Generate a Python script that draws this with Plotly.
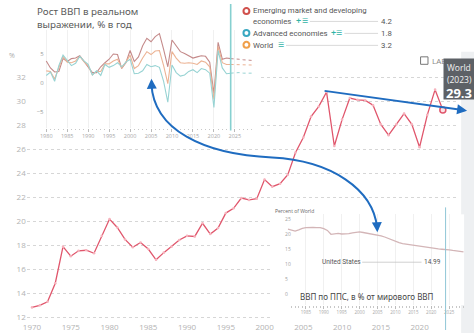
import plotly.graph_objects as go

W, H = 474, 334

# ---------------- data ----------------
main_years = list(range(1970, 2024))
main_share = [12.83, 13.0, 13.3, 14.85, 17.9, 17.1, 17.55, 17.6, 17.35, 18.8,
              20.2, 19.5, 18.5, 17.85, 18.25, 17.7, 16.8, 17.4, 17.9, 18.45,
              18.8, 18.75, 19.85, 18.95, 19.45, 20.7, 21.1, 21.95, 21.8, 21.9,
              23.5, 22.9, 23.15, 23.9, 25.75, 27.0, 28.75, 29.6, 30.8, 26.3,
              28.5, 30.3, 30.15, 30.1, 29.7, 28.1, 27.2, 28.1, 29.0, 28.1,
              26.2, 28.9, 31.0, 29.3]
main_xticks = [1970, 1975, 1980, 1985, 1990, 1995, 2000, 2005, 2010, 2015, 2020]

g_years = list(range(1980, 2030))
g_emde = [3.8, 2.6, 1.9, 2.0, 4.2, 3.7, 4.2, 4.3, 4.7, 3.7,
          2.8, 1.8, 1.8, 2.8, 3.5, 4.1, 5.0, 4.9, 2.5, 3.5,
          5.6, 3.7, 4.5, 6.4, 7.7, 7.1, 8.0, 8.5, 5.8, 2.8,
          7.4, 6.4, 5.4, 5.1, 4.7, 4.3, 4.5, 4.7, 4.6, 3.6,
          -1.8, 7.0, 4.1, 4.3, 4.2, 4.2, 4.1, 4.0, 3.9, 3.9]
g_adv = [1.3, 1.9, 0.3, 3.0, 4.8, 3.8, 3.0, 3.4, 4.6, 3.8,
         3.2, 1.4, 2.1, 1.3, 3.2, 2.7, 3.0, 3.5, 2.8, 3.6,
         4.1, 1.6, 1.7, 2.1, 3.2, 2.8, 3.0, 2.7, 0.3, -3.3,
         3.1, 1.8, 1.2, 1.4, 2.0, 2.3, 1.8, 2.5, 2.3, 1.7,
         -4.2, 5.6, 2.6, 1.6, 1.7, 1.8, 1.8, 1.7, 1.7, 1.7]
g_world = [2.1, 2.0, 0.7, 2.6, 4.6, 3.6, 3.5, 3.8, 4.6, 3.7,
           3.0, 1.4, 2.0, 2.0, 3.3, 3.3, 3.8, 4.1, 2.6, 3.6,
           4.8, 2.5, 3.0, 4.3, 5.4, 4.9, 5.5, 5.6, 3.0, -0.1,
           5.4, 4.3, 3.5, 3.4, 3.5, 3.4, 3.2, 3.8, 3.6, 2.8,
           -2.8, 6.3, 3.5, 3.2, 3.2, 3.2, 3.2, 3.2, 3.1, 3.1]
g_ticks = [1980, 1985, 1990, 1995, 2000, 2005, 2010, 2015, 2020, 2025]
legend_names = ["Emerging market and developing", "Advanced economies", "World"]
legend_values = ["4.2", "1.8", "3.2"]

us_years = list(range(1980, 2030))
us_share = [21.7, 21.5, 21.1, 21.5, 22.0, 22.2, 22.3, 22.3, 22.2, 22.2,
            21.9, 21.3, 20.0, 20.2, 20.3, 20.1, 20.1, 20.2, 20.5, 20.7,
            20.8, 20.6, 20.4, 20.2, 20.0, 19.8, 19.5, 19.1, 18.6, 18.1,
            17.6, 17.2, 16.9, 16.7, 16.5, 16.4, 16.1, 15.9, 15.7, 15.5,
            15.4, 15.3, 15.1, 15.0, 14.99, 14.8, 14.6, 14.5, 14.3, 14.1]
us_ticks = [1980, 1985, 1990, 1995, 2000, 2005, 2010, 2015, 2020, 2025]

# ---------------- helpers ----------------
def PX(x):
    return x / W

def PY(y):
    return 1 - y / H

def mx(px):
    return 1970 + (px - 27.3) / 7.834

def my(py):
    return 12 + (318.3 - py) / 12.02

RED = "#e0566c"
BLUE = "#1f6cc0"
C_EMDE, C_ADV, C_WORLD = "#c48a8a", "#97d3d3", "#ecb394"
GRAYTXT = "#b3b3b3"

fig = go.Figure()

# main series
fig.add_trace(go.Scatter(x=main_years, y=main_share, mode="lines+markers",
                         line=dict(color=RED, width=1.3),
                         marker=dict(size=2.6, color="#f6b3bd"),
                         xaxis="x", yaxis="y", showlegend=False))
fig.add_trace(go.Scatter(x=main_years[-1:], y=main_share[-1:], mode="markers",
                         marker=dict(size=6, color="#fbe3e6", line=dict(color=RED, width=1.5)),
                         xaxis="x", yaxis="y", showlegend=False))

# inset 1: growth
i24 = g_years.index(2024)
for ser, col in [(g_emde, C_EMDE), (g_world, C_WORLD), (g_adv, C_ADV)]:
    fig.add_trace(go.Scatter(x=g_years[:i24 + 1], y=ser[:i24 + 1], mode="lines",
                             line=dict(color=col, width=1.1),
                             xaxis="x2", yaxis="y2", showlegend=False))
    fig.add_trace(go.Scatter(x=g_years[i24:], y=ser[i24:], mode="lines",
                             line=dict(color=col, width=1.0, dash="dot"),
                             xaxis="x2", yaxis="y2", showlegend=False))

# inset 2: US share
fig.add_trace(go.Scatter(x=us_years, y=us_share, mode="lines",
                         line=dict(color="#d3b5b7", width=1.3),
                         xaxis="x3", yaxis="y3", showlegend=False))

tf_small = dict(family="Open Sans", size=5.5, color="#a8a8a8")

fig.update_layout(
    width=W, height=H, autosize=False,
    margin=dict(l=0, r=0, t=0, b=0),
    paper_bgcolor="white", plot_bgcolor="white",
    xaxis=dict(domain=[PX(22), PX(458)], range=[mx(22), mx(458)],
               tickvals=main_xticks, showgrid=False, zeroline=False, showline=False,
               ticks="", tickfont=dict(family="Open Sans", size=8, color=GRAYTXT),
               anchor="y"),
    yaxis=dict(domain=[PY(322), PY(66)], range=[my(322), my(66)], dtick=2,
               showgrid=True, gridcolor="#d6d6d6", griddash="dot", gridwidth=1,
               zeroline=False, showline=False, ticks="",
               tickfont=dict(family="Open Sans", size=8, color=GRAYTXT), anchor="x"),
    xaxis2=dict(domain=[PX(40), PX(252)], range=[1980 - 1.7 / 4.236, 1980 + 210.3 / 4.236],
                tickvals=g_ticks, showgrid=True, gridcolor="#f0f0f0", zeroline=False,
                showline=False, ticks="outside", ticklen=3, tickcolor="#bbbbbb",
                minor=dict(ticks="outside", dtick=1, ticklen=1.5, tickcolor="#c8c8c8"),
                tickfont=tf_small, anchor="y2"),
    yaxis2=dict(domain=[PY(128), PY(30)], range=[(83.3 - 128) / 5.83, (83.3 - 30) / 5.83],
                tickvals=[-5, 0, 5], showgrid=False, zeroline=False, showline=False,
                ticks="", tickfont=dict(family="Open Sans", size=6, color="#999"),
                anchor="x2"),
    xaxis3=dict(domain=[PX(280), PX(464)], range=[1980 - 6 / 3.62, 1980 + 178 / 3.62],
                tickvals=us_ticks, showgrid=True, gridcolor="#f0f0f0", zeroline=False,
                showline=False, ticks="outside", ticklen=3, tickcolor="#bbbbbb",
                minor=dict(ticks="outside", dtick=1, ticklen=1.5, tickcolor="#c8c8c8"),
                tickfont=dict(family="Open Sans", size=4.5, color="#a8a8a8"), anchor="y3"),
    yaxis3=dict(domain=[PY(306), PY(215)], range=[-11 / 3, 25 + 5 / 3],
                tickvals=[0, 5, 10, 15, 20, 25], showgrid=False, zeroline=False,
                showline=False, ticks="", ticklabelposition="inside",
                tickfont=dict(family="Open Sans", size=5, color="#a0a0a0"), anchor="x3"),
)

shapes = []
# gray strip on the right
shapes.append(dict(type="rect", xref="paper", yref="paper", x0=PX(461), x1=1, y0=0, y1=PY(52),
                   fillcolor="#eef0f2", line=dict(width=0), layer="below"))
# white panels hiding main gridlines under the insets
shapes.append(dict(type="rect", xref="x", yref="y", x0=mx(20), x1=mx(258), y0=my(145), y1=my(40),
                   fillcolor="white", line=dict(width=0), layer="between"))
shapes.append(dict(type="rect", xref="x", yref="y", x0=mx(268), x1=mx(462), y0=my(340), y1=my(203),
                   fillcolor="white", line=dict(width=0), layer="between"))
# current-year markers in insets
shapes.append(dict(type="line", xref="x2", yref="paper", x0=2024, x1=2024, y0=PY(131), y1=PY(4),
                   line=dict(color="#86d0d0", width=1.6), layer="above"))
shapes.append(dict(type="line", xref="x3", yref="paper", x0=2024, x1=2024, y0=PY(331), y1=PY(208),
                   line=dict(color="#90c6d6", width=1), layer="above"))
# legend icons & leaders
for (cy, col) in [(11, "#d0504c"), (33, "#3aa8c1"), (45, "#f0a04b")]:
    shapes.append(dict(type="circle", xref="paper", yref="paper",
                       x0=PX(241), x1=PX(247), y0=PY(cy + 3), y1=PY(cy - 3),
                       fillcolor="white", line=dict(color=col, width=2)))
for (x0, cy) in [(308, 21.5), (343, 33.5), (284, 45.5)]:
    shapes.append(dict(type="line", xref="paper", yref="paper", x0=PX(x0), x1=PX(377),
                       y0=PY(cy), y1=PY(cy), line=dict(color="#cfcfcf", width=0.8)))
# US leader line
shapes.append(dict(type="line", xref="paper", yref="paper", x0=PX(361), x1=PX(421),
                   y0=PY(263), y1=PY(263), line=dict(color="#c4c4c4", width=0.8)))
# checkbox
shapes.append(dict(type="rect", xref="paper", yref="paper", x0=PX(420), x1=PX(427.5),
                   y0=PY(64.5), y1=PY(57), line=dict(color="#777", width=1), fillcolor="white"))
# blue S-curve
def P(x, y):
    return f"{PX(x):.5f},{PY(y):.5f}"
path = ("M " + P(148, 84) + " C " + P(150, 130) + " " + P(200, 155) + " " + P(270, 158)
        + " C " + P(330, 161) + " " + P(372, 190) + " " + P(376, 228))
shapes.append(dict(type="path", xref="paper", yref="paper", path=path,
                   line=dict(color=BLUE, width=2), layer="above"))
fig.update_layout(shapes=shapes)

ann = []
def txt(x, y, s, size=9, color="#555", xanchor="left", family="Open Sans", yanchor="middle"):
    ann.append(dict(x=PX(x), y=PY(y), xref="paper", yref="paper", text=s, showarrow=False,
                    xanchor=xanchor, yanchor=yanchor,
                    font=dict(family=family, size=size, color=color)))

LF = "Roboto"
txt(30, 11.5, "Рост ВВП в реальном", size=9.8, color="#5a5a5a", family="Noto Sans")
txt(30, 25, "выражении, % в год", size=9.8, color="#5a5a5a", family="Noto Sans")
txt(7, 56, "%", size=7, color="#aaa", xanchor="center")

# legend
txt(249, 11, legend_names[0], size=7.8, family=LF)
txt(249, 21.5, "economies", size=7.8, family=LF)
txt(292, 21, "+", size=9, color="#2fb3a6", family=LF)
txt(298, 21.5, "☰", size=7, color="#2fb3a6", family="DejaVu Sans")
txt(249, 33.5, legend_names[1], size=7.8, family=LF)
txt(327, 33, "+", size=9, color="#2fb3a6", family=LF)
txt(333, 33.5, "☰", size=7, color="#2fb3a6", family="DejaVu Sans")
txt(249, 45.5, legend_names[2], size=7.8, family=LF)
txt(274, 45.5, "☰", size=7, color="#2fb3a6", family="DejaVu Sans")
for v, cy in zip(legend_values, [21.5, 33.5, 45.5]):
    txt(386, cy, v, size=7.8, xanchor="center", family=LF)

# inset 2 texts
txt(271, 212, "Percent of World", size=5, color="#666")
txt(318, 263, "United States", size=6.5, color="#555", family=LF)
txt(432, 263, "14.99", size=6.5, color="#555", xanchor="center", family=LF)
txt(296, 297, "ВВП по ППС, в % от мирового ВВП", size=8, color="#444", family="Noto Sans")

# checkbox label, partially covered by tooltip
txt(429.5, 61, "LABEL", size=8, color="#888")
# tooltip box
ann.append(dict(x=PX(443), y=PY(58.5), xref="paper", yref="paper", text=" ", showarrow=False,
                xanchor="left", yanchor="top", width=36, height=40, bgcolor="#5d6166",
                borderpad=0, font=dict(size=6)))
txt(459, 68, "World", size=8.5, color="#f2f2f2", xanchor="center")
txt(459, 80, "(2023)", size=8.5, color="#f2f2f2", xanchor="center")
txt(459, 93.5, "<b>29.3</b>", size=13, color="white", xanchor="center")

# arrowheads
ann.append(dict(x=PX(467), y=PY(111), xref="paper", yref="paper", ax=-144, ay=-20,
                axref="pixel", ayref="pixel", showarrow=True, arrowhead=2, arrowsize=1,
                arrowwidth=2, arrowcolor=BLUE, text="", standoff=0))
ann.append(dict(x=PX(148), y=PY(79), xref="paper", yref="paper", ax=0.3, ay=8,
                showarrow=True, arrowhead=2, arrowsize=1, arrowwidth=2,
                arrowcolor=BLUE, text="", standoff=0))
ann.append(dict(x=PX(376.3), y=PY(233), xref="paper", yref="paper", ax=-0.4, ay=-8,
                showarrow=True, arrowhead=2, arrowsize=1, arrowwidth=2,
                arrowcolor=BLUE, text="", standoff=0))
fig.update_layout(annotations=ann)

fig.write_html("out.html")
